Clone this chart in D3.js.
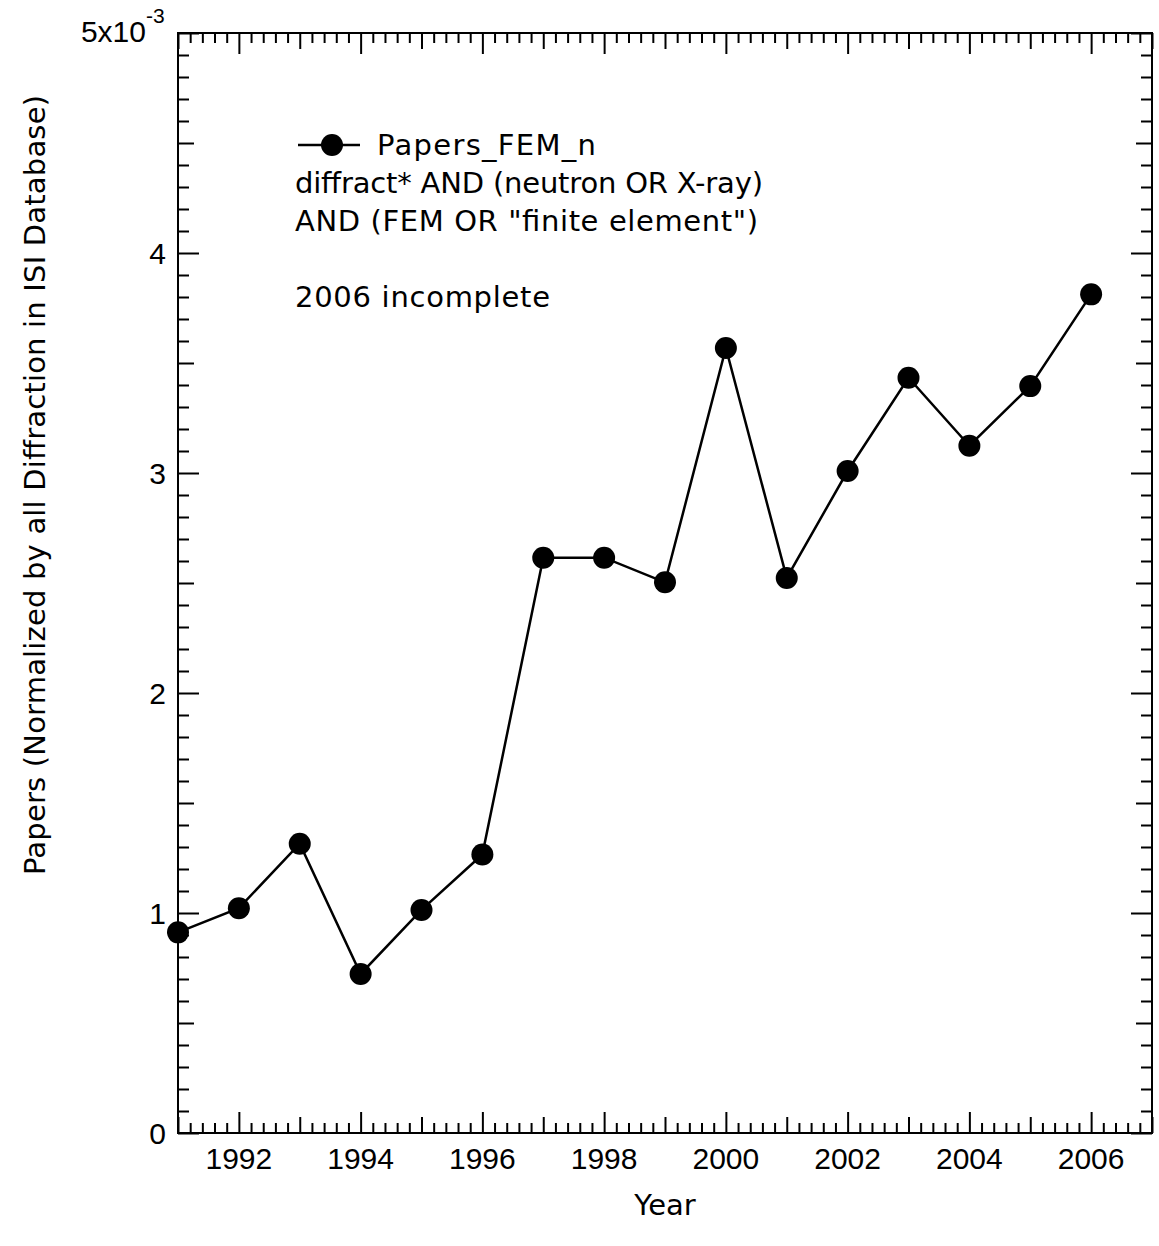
<!DOCTYPE html>
<html>
<head>
<meta charset="utf-8">
<script src="https://cdn.jsdelivr.net/npm/d3@7"></script>
<style>
  html, body { margin: 0; padding: 0; background: #fff; }
  svg text { fill: #000; }
  .tk { font-family: "Liberation Sans", Arial, Helvetica, sans-serif; }
  .tx { font-family: "DejaVu Sans", Verdana, Geneva, sans-serif; }
</style>
</head>
<body>
<svg id="chart" width="1159" height="1246"></svg>
<script>
// ---- data (values in units of 1e-3) ----
const years = [1991, 1992, 1993, 1994, 1995, 1996, 1997, 1998, 1999, 2000, 2001, 2002, 2003, 2004, 2005, 2006];
const papersFEM = [0.912, 1.022, 1.315, 0.723, 1.014, 1.266, 2.615, 2.615, 2.503, 3.568, 2.523, 3.009, 3.433, 3.124, 3.395, 3.812];
const xTickLabels = [1992, 1994, 1996, 1998, 2000, 2002, 2004, 2006];
const yTickLabels = [0, 1, 2, 3, 4];
const legendName = "Papers_FEM_n";
const noteLines = ["diffract* AND (neutron OR X-ray)", "AND (FEM OR \"finite element\")"];
const noteIncomplete = "2006 incomplete";
const xTitle = "Year";
const yTitle = "Papers (Normalized by all Diffraction in ISI Database)";

// ---- layout ----
const L = 178, R = 1152, T = 33, B = 1133;
const FS = 29, TFS = 30;
const svg = d3.select("#chart");

const x = d3.scaleLinear().domain([1991, 2007]).range([L, R]);
const y = d3.scaleLinear().domain([0, 5]).range([B, T]);

// tick value sets
const xMinor = d3.range(0, 80).map(i => 1991 + i * 0.2).filter(v => Math.abs(v - Math.round(v)) > 1e-6);
const xOdd = d3.range(1991, 2008).filter(v => v % 2 === 1);
const xEven = d3.range(1992, 2008, 2);
const yMinor = d3.range(0, 51).map(i => i * 0.1).filter(v => Math.abs(v * 2 - Math.round(v * 2)) > 1e-6);
const yHalf = [0.5, 1.5, 2.5, 3.5, 4.5];
const yMajor = [0, 1, 2, 3, 4, 5];

function tickAxis(gen, vals, len, tx, ty) {
  const g = svg.append("g").attr("transform", `translate(${tx},${ty})`)
    .call(gen.tickValues(vals).tickSize(-len).tickFormat(""));
  g.select(".domain").remove();
  g.selectAll(".tick line").attr("stroke", "#000").attr("stroke-width", 2);
  return g;
}

tickAxis(d3.axisBottom(x), xMinor, 10, 0, B);
tickAxis(d3.axisBottom(x), xOdd, 16, 0, B);
tickAxis(d3.axisBottom(x), xEven, 21, 0, B);
tickAxis(d3.axisTop(x), xMinor, 10, 0, T);
tickAxis(d3.axisTop(x), xOdd, 16, 0, T);
tickAxis(d3.axisTop(x), xEven, 21, 0, T);
tickAxis(d3.axisLeft(y), yMinor, 11, L, 0);
tickAxis(d3.axisLeft(y), yHalf, 16, L, 0);
tickAxis(d3.axisLeft(y), yMajor, 21, L, 0);
tickAxis(d3.axisRight(y), yMinor, 11, R, 0);
tickAxis(d3.axisRight(y), yHalf, 16, R, 0);
tickAxis(d3.axisRight(y), yMajor, 21, R, 0);

// frame
svg.append("rect").attr("x", L).attr("y", T).attr("width", R - L).attr("height", B - T)
  .attr("fill", "none").attr("stroke", "#000").attr("stroke-width", 2);

// x tick labels
svg.append("g").selectAll("text").data(xTickLabels).join("text").attr("class", "tk")
  .attr("x", d => x(d)).attr("y", 1169)
  .attr("text-anchor", "middle").attr("font-size", TFS).text(d => d);

// y tick labels
svg.append("g").selectAll("text").data(yTickLabels).join("text").attr("class", "tk")
  .attr("x", L - 12).attr("y", d => y(d) + 11)
  .attr("text-anchor", "end").attr("font-size", TFS).text(d => d);
// top label 5x10^-3
svg.append("text").attr("class", "tk").attr("x", 146).attr("y", y(5) + 9)
  .attr("text-anchor", "end").attr("font-size", TFS).text("5x10");
svg.append("text").attr("class", "tk").attr("x", 146).attr("y", y(5) - 10)
  .attr("text-anchor", "start").attr("font-size", 21).text("-3");

// series line
const line = d3.line().x((d, i) => x(years[i])).y(d => y(d));
svg.append("path").datum(papersFEM).attr("d", line)
  .attr("fill", "none").attr("stroke", "#000").attr("stroke-width", 2.5);
svg.append("g").selectAll("circle").data(papersFEM).join("circle")
  .attr("cx", (d, i) => x(years[i])).attr("cy", d => y(d)).attr("r", 11).attr("fill", "#000");

// legend
svg.append("line").attr("x1", 298).attr("x2", 360).attr("y1", 145).attr("y2", 145)
  .attr("stroke", "#000").attr("stroke-width", 2.5);
svg.append("circle").attr("cx", 332).attr("cy", 145).attr("r", 11).attr("fill", "#000");
svg.append("text").attr("class", "tx").attr("x", 377).attr("y", 155).attr("font-size", FS)
  .attr("textLength", 219).attr("lengthAdjust", "spacing").text(legendName);
const noteWidths = [468, 463];
svg.append("g").selectAll("text").data(noteLines).join("text").attr("class", "tx")
  .attr("x", 295).attr("y", (d, i) => 193 + i * 37.5).attr("font-size", FS)
  .attr("textLength", (d, i) => noteWidths[i]).attr("lengthAdjust", "spacing").text(d => d);
svg.append("text").attr("class", "tx").attr("x", 295).attr("y", 307).attr("font-size", FS)
  .attr("textLength", 255).attr("lengthAdjust", "spacing").text(noteIncomplete);

// axis titles
svg.append("text").attr("class", "tx").attr("x", 665).attr("y", 1215)
  .attr("text-anchor", "middle").attr("font-size", FS).text(xTitle);
svg.append("text").attr("class", "tx").attr("transform", `translate(45,485) rotate(-90)`)
  .attr("text-anchor", "middle").attr("font-size", FS)
  .attr("textLength", 780).attr("lengthAdjust", "spacing").text(yTitle);
</script>
</body>
</html>
